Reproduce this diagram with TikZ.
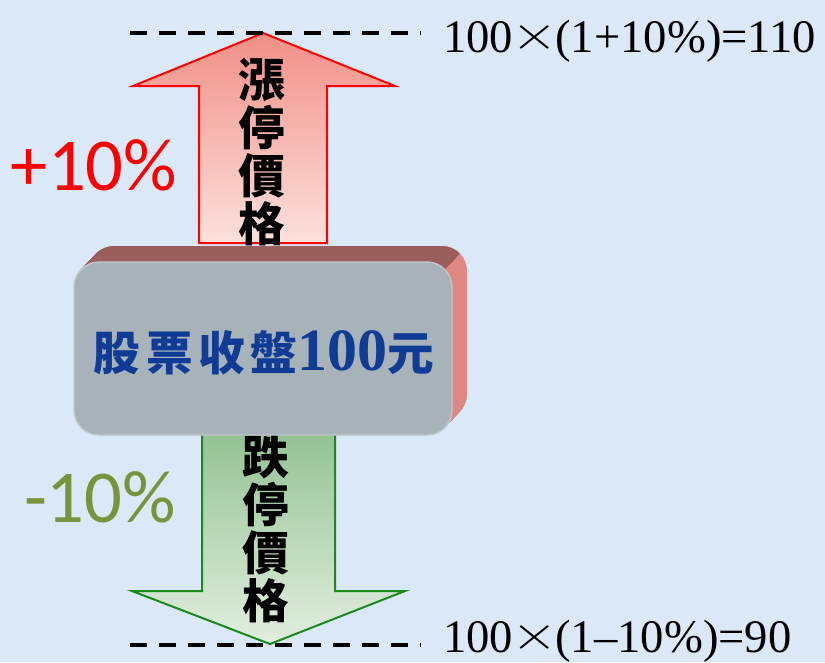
\documentclass[tikz,border=0pt]{standalone}
\usepackage{fontspec}
\usepackage{graphicx}
\setmainfont{Liberation Serif}
\newfontfamily\cjk{Noto Sans CJK TC}
\newfontfamily\cjkls[LetterSpace=12]{Noto Sans CJK TC}
\newfontfamily\calib{Carlito}
\definecolor{bgblue}{RGB}{219,232,247}
\definecolor{upstroke}{RGB}{255,0,0}
\definecolor{uptop}{RGB}{242,143,135}
\definecolor{upbot}{RGB}{252,224,220}
\definecolor{dnstroke}{RGB}{26,138,26}
\definecolor{dntop}{RGB}{147,194,147}
\definecolor{dnbot}{RGB}{227,238,224}
\definecolor{boxfront}{RGB}{167,179,185}
\definecolor{boxedge}{RGB}{190,201,206}
\definecolor{boxtop}{RGB}{154,94,92}
\definecolor{boxside}{RGB}{224,135,132}
\definecolor{boxtext}{RGB}{16,60,150}
\definecolor{minusgreen}{RGB}{119,147,60}
\tikzset{
  dashline/.style={line width=3pt, dash pattern=on 12.75pt off 9pt},
  uparrow/.style={draw=upstroke, line width=1.5pt, top color=uptop, bottom color=upbot},
  dnarrow/.style={draw=dnstroke, line width=1.5pt, top color=dntop, bottom color=dnbot},
  vlabel/.style={align=center, inner sep=0pt, font=\cjk\bfseries\fontsize{35}{36}\selectfont},
  pct/.style={inner sep=0pt, font=\calib\fontsize{56}{60}\selectfont},
  formula/.style={anchor=base west, inner sep=0pt, font=\fontsize{35}{40}\selectfont},
  boxshape/.style={rounded corners=18.75pt},
}
\newcommand{\bigx}{\makebox[0.9em]{\raisebox{0.05em}{\scalebox{1.8}[1.45]{$\times$}}}}
\begin{document}
\begin{tikzpicture}[x=0.75pt,y=-0.75pt]
\useasboundingbox (0,0) rectangle (825,662);
\fill[bgblue] (0,0) rectangle (825,662);

% up arrow
\path[uparrow] (263,33) -- (395,86) -- (327,86) -- (327,243) -- (199,243) -- (199,86) -- (133,86) -- cycle;
\node[vlabel] (uplabel) at (262,152) {漲\\停\\價\\格};

% down arrow
\path[dnarrow] (202,433) -- (335,433) -- (335,591) -- (405,591) -- (270,644) -- (132,591) -- (202,591) -- cycle;
\node[vlabel] (dnlabel) at (266,529) {跌\\停\\價\\格};

% 3D box: side faces
\foreach \t in {0,...,32} {
  \fill[boxside, boxshape, shift={(\t*0.46875,-\t*0.5)}] (74,262) rectangle (452,435);
}
\begin{scope}
\clip (40,200) -- (509.7,200) -- (387.8,330) -- (40,330) -- cycle;
\foreach \t in {0,...,32} {
  \fill[boxtop, boxshape, shift={(\t*0.46875,-\t*0.5)}] (74,262) rectangle (452,435);
}
\end{scope}
\path[fill=boxfront, draw=boxedge, line width=1pt, boxshape] (74,262) rectangle (452,435);
\node[inner sep=0pt, text=boxtext] (stock) at (264,353)
  {{\cjkls\bfseries\fontsize{35}{40}\selectfont 股票收盤}{\bfseries\fontsize{45}{48}\selectfont 100}{\cjk\bfseries\fontsize{35}{40}\selectfont 元}};

% percentages
\node[pct, text=upstroke] (plus) at (94,165) {+10\%};
\node[pct, text=minusgreen] (minus) at (100,497) {-10\%};

% dashed lines
\coordinate (t1) at (130,33);
\coordinate (t2) at (421,33);
\coordinate (b1) at (130,645);
\coordinate (b2) at (421,645);
\draw[dashline] (t1) -- (t2);
\draw[dashline] (b1) -- (b2);

% formulas
\node[formula] (ftop) at (443,52) {100\bigx(1+10\%)=110};
\node[formula] (fbot) at (443,652) {100\bigx(1–10\%)=90};
\end{tikzpicture}
\end{document}
